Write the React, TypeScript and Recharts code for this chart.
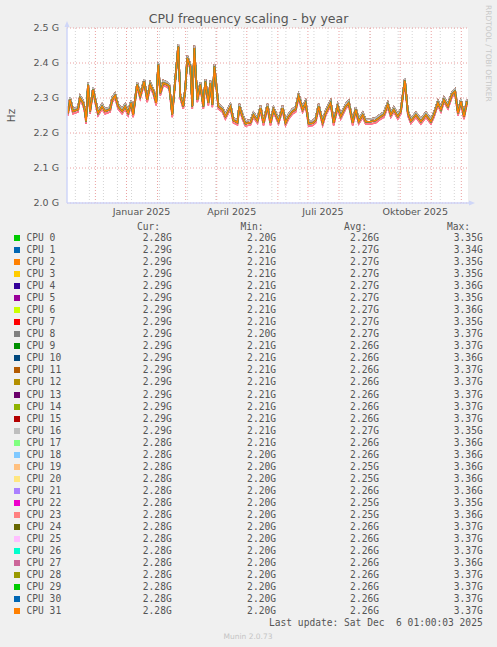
import { CartesianGrid, Line, LineChart, XAxis, YAxis } from "recharts";

const DAY = 86400000;
// left edge of the 400 day window shown by the yearly graph
const START = Date.UTC(2024, 10, 2, 16);
const END = START + 400 * DAY;

// days since START and the shared frequency curve (GHz)
const dayOffsets = [
  1, 3, 6, 11, 13, 16, 18, 19, 21, 23, 26, 28, 31, 35, 38, 43, 45, 48, 51, 55,
  58, 61, 64, 66, 70, 73, 77, 80, 83, 86, 89, 91, 93, 96, 100, 102, 105, 106,
  111, 113, 116, 118, 120, 123, 125, 127, 130, 133, 136, 138, 141, 143, 145,
  147, 150, 151, 155, 158, 163, 166, 170, 172, 175, 178, 183, 186, 190, 193,
  196, 200, 203, 206, 211, 215, 218, 221, 225, 228, 231, 235, 238, 241, 245,
  248, 251, 255, 258, 263, 266, 270, 273, 278, 281, 285, 288, 291, 295, 298,
  303, 308, 313, 316, 320, 323, 326, 330, 333, 337, 340, 343, 348, 353, 358,
  363, 366, 370, 373, 376, 380, 384, 387, 390, 393, 396, 399,
];
const baseGHz = [
  2.257, 2.295, 2.262, 2.267, 2.3, 2.286, 2.262, 2.233, 2.338, 2.262, 2.324,
  2.295, 2.257, 2.276, 2.262, 2.267, 2.295, 2.307, 2.276, 2.262, 2.276, 2.257,
  2.286, 2.252, 2.338, 2.305, 2.347, 2.295, 2.338, 2.319, 2.286, 2.395, 2.314,
  2.343, 2.338, 2.333, 2.252, 2.286, 2.447, 2.305, 2.276, 2.324, 2.414, 2.39,
  2.276, 2.443, 2.295, 2.338, 2.276, 2.347, 2.286, 2.343, 2.281, 2.39, 2.305,
  2.276, 2.267, 2.247, 2.276, 2.236, 2.23, 2.276, 2.247, 2.227, 2.23, 2.252,
  2.235, 2.271, 2.229, 2.276, 2.229, 2.267, 2.233, 2.271, 2.229, 2.247, 2.262,
  2.267, 2.305, 2.267, 2.286, 2.227, 2.228, 2.236, 2.276, 2.229, 2.257, 2.286,
  2.229, 2.276, 2.247, 2.276, 2.286, 2.229, 2.267, 2.233, 2.252, 2.232, 2.233,
  2.236, 2.247, 2.252, 2.281, 2.252, 2.267, 2.247, 2.262, 2.35, 2.257, 2.234,
  2.252, 2.233, 2.252, 2.233, 2.252, 2.286, 2.267, 2.295, 2.276, 2.31, 2.319,
  2.257, 2.29, 2.247, 2.29,
];

// small per-cpu shift (GHz) following the Avg column
const cpuShift = [
  0, 0.007, 0.007, 0.007, 0.007, 0.007, 0.007, 0.007, 0.007, 0, 0, 0, 0, 0, 0,
  0, 0.007, 0, 0, -0.007, -0.007, 0, -0.007, -0.007, 0, 0, 0, 0, 0, 0, 0, 0,
];

const cpuColors = [
  "#00CC00", "#0066B3", "#FF8000", "#FFCC00", "#330099", "#990099", "#CCFF00",
  "#FF0000", "#808080", "#008F00", "#00487D", "#B35A00", "#B38F00", "#6B006B",
  "#8FB300", "#B30000", "#BEBEBE", "#80FF80", "#80C9FF", "#FFC080", "#FFE680",
  "#AA80FF", "#EE00CC", "#FF8080", "#666600", "#FFBFFF", "#00FFCC", "#CC6699",
  "#999900", "#00CC00", "#0066B3", "#FF8000",
];

const curVals = [
  "2.28G", "2.29G", "2.29G", "2.29G", "2.29G", "2.29G", "2.29G", "2.29G",
  "2.29G", "2.29G", "2.29G", "2.29G", "2.29G", "2.29G", "2.29G", "2.29G",
  "2.29G", "2.28G", "2.28G", "2.28G", "2.28G", "2.28G", "2.28G", "2.28G",
  "2.28G", "2.28G", "2.28G", "2.28G", "2.28G", "2.28G", "2.28G", "2.28G",
];
const minVals = [
  "2.20G", "2.21G", "2.21G", "2.21G", "2.21G", "2.21G", "2.21G", "2.21G",
  "2.20G", "2.21G", "2.21G", "2.21G", "2.21G", "2.21G", "2.21G", "2.21G",
  "2.21G", "2.21G", "2.20G", "2.20G", "2.20G", "2.20G", "2.20G", "2.20G",
  "2.20G", "2.20G", "2.20G", "2.20G", "2.20G", "2.20G", "2.20G", "2.20G",
];
const avgVals = [
  "2.26G", "2.27G", "2.27G", "2.27G", "2.27G", "2.27G", "2.27G", "2.27G",
  "2.27G", "2.26G", "2.26G", "2.26G", "2.26G", "2.26G", "2.26G", "2.26G",
  "2.27G", "2.26G", "2.26G", "2.25G", "2.25G", "2.26G", "2.25G", "2.25G",
  "2.26G", "2.26G", "2.26G", "2.26G", "2.26G", "2.26G", "2.26G", "2.26G",
];
const maxVals = [
  "3.35G", "3.34G", "3.35G", "3.35G", "3.36G", "3.35G", "3.36G", "3.35G",
  "3.37G", "3.37G", "3.36G", "3.37G", "3.37G", "3.37G", "3.37G", "3.37G",
  "3.35G", "3.36G", "3.36G", "3.36G", "3.36G", "3.36G", "3.35G", "3.36G",
  "3.37G", "3.37G", "3.37G", "3.36G", "3.37G", "3.37G", "3.37G", "3.37G",
];

const yTicks = [2.0, 2.1, 2.2, 2.3, 2.4, 2.5];
const labelTicks = [
  Date.UTC(2025, 0, 16),
  Date.UTC(2025, 3, 16),
  Date.UTC(2025, 6, 16),
  Date.UTC(2025, 9, 16),
];
const labelNames = ["Januar 2025", "April 2025", "Juli 2025", "Oktober 2025"];
const monthStarts = [
  Date.UTC(2024, 11, 1), Date.UTC(2025, 0, 1), Date.UTC(2025, 1, 1),
  Date.UTC(2025, 2, 1), Date.UTC(2025, 3, 1), Date.UTC(2025, 4, 1),
  Date.UTC(2025, 5, 1), Date.UTC(2025, 6, 1), Date.UTC(2025, 7, 1),
  Date.UTC(2025, 8, 1), Date.UTC(2025, 9, 1), Date.UTC(2025, 10, 1),
  Date.UTC(2025, 11, 1),
];
const minorLines: number[] = [];
for (let t = Date.UTC(2024, 10, 11); t < END; t += 14 * DAY) minorLines.push(t);

const data = dayOffsets.map((d, i) => {
  const row: Record<string, number> = { t: START + d * DAY };
  cpuShift.forEach((s, c) => {
    row[`cpu${c}`] = baseGHz[i] + s;
  });
  return row;
});

const SANS = "'DejaVu Sans', sans-serif";
const MONO = "'DejaVu Sans Mono', monospace";
const TXT = "#555";

const gridX = (times: number[]) => (props: any) => {
  const { xAxis, offset } = props;
  return times.map((t) =>
    xAxis && typeof xAxis.scale === "function"
      ? xAxis.scale(t)
      : offset.left + ((t - START) / (END - START)) * offset.width
  );
};

export default function App() {
  const rowTop = (i: number) => 232 + i * 12.04;
  return (
    <div
      style={{
        position: "absolute",
        left: 0,
        top: 0,
        width: 497,
        height: 647,
        background: "#F0F0F0",
        overflow: "hidden",
        fontFamily: SANS,
      }}
    >
      <div
        style={{
          position: "absolute",
          left: 0,
          top: 11,
          width: 497,
          textAlign: "center",
          fontSize: 12.5,
          color: TXT,
        }}
      >
        CPU frequency scaling - by year
      </div>
      <div style={{ position: "absolute", left: 0, top: 0 }}>
        <LineChart
          width={497}
          height={224}
          data={data}
          margin={{ top: 28, right: 29, bottom: 0, left: 0 }}
        >
          <CartesianGrid
            fill="#FFFFFF"
            horizontal={false}
            stroke="#d4d4d4"
            strokeDasharray="1 2"
            verticalCoordinatesGenerator={gridX(minorLines)}
          />
          <CartesianGrid
            stroke="#eba0a0"
            strokeDasharray="1 2"
            verticalCoordinatesGenerator={gridX(monthStarts)}
          />
          <XAxis
            dataKey="t"
            type="number"
            domain={[START, END]}
            ticks={labelTicks}
            tickFormatter={(v) => labelNames[labelTicks.indexOf(v)] ?? ""}
            axisLine={{ stroke: "#cfd6f8", strokeWidth: 1.5 }}
            tickLine={false}
            tickSize={2}
            tickMargin={3}
            height={21}
            tick={{ fill: TXT, fontSize: 9.5, fontFamily: SANS }}
            interval={0}
          />
          <YAxis
            type="number"
            domain={[2.0, 2.5]}
            ticks={yTicks}
            allowDataOverflow
            tickFormatter={(v) => `${Number(v).toFixed(1)} G`}
            axisLine={{ stroke: "#cfd6f8", strokeWidth: 1.5 }}
            tickLine={false}
            tickSize={4}
            tickMargin={4}
            width={67}
            tick={{ fill: TXT, fontSize: 9.5, fontFamily: SANS }}
            interval={0}
          />
          {cpuColors.map((c, i) => (
            <Line
              key={i}
              type="linear"
              dataKey={`cpu${i}`}
              stroke={c}
              strokeWidth={1.5}
              dot={false}
              isAnimationActive={false}
            />
          ))}
        </LineChart>
      </div>
      <svg
        width={497}
        height={647}
        style={{ position: "absolute", left: 0, top: 0, pointerEvents: "none" }}
      >
        <polygon points="64.5,27 67,21 69.5,27" fill="#cfd6f8" />
        <line x1={67} y1={27} x2={67} y2={28} stroke="#cfd6f8" />
        <line x1={468} y1={203} x2={470} y2={203} stroke="#cfd6f8" strokeWidth={1.5} />
        <polygon points="469,200.5 475,203 469,205.5" fill="#cfd6f8" />
        <text
          x={11}
          y={115.5}
          transform="rotate(-90 11 115.5)"
          textAnchor="middle"
          dominantBaseline="central"
          fontSize={10.5}
          fill={TXT}
          fontFamily={SANS}
        >
          Hz
        </text>
        <text
          x={488.5}
          y={5}
          transform="rotate(90 488.5 5)"
          textAnchor="start"
          dominantBaseline="central"
          fontSize={7.5}
          fill="#c8c8c8"
          fontFamily={SANS}
        >
          RRDTOOL / TOBI OETIKER
        </text>
        <text
          x={248}
          y={636}
          textAnchor="middle"
          dominantBaseline="central"
          fontSize={7.5}
          fill="#c4c4c4"
          fontFamily={SANS}
        >
          Munin 2.0.73
        </text>
      </svg>
      <div
        style={{
          position: "absolute",
          left: 0,
          top: 0,
          width: 497,
          fontFamily: MONO,
          fontSize: 9.6,
          color: TXT,
          lineHeight: "12px",
          whiteSpace: "pre",
        }}
      >
        {["Cur:", "Min:", "Avg:", "Max:"].map((h, k) => (
          <div
            key={h}
            style={{
              position: "absolute",
              top: 221,
              right: 497 - [160, 263.5, 367, 470][k],
            }}
          >
            {h}
          </div>
        ))}
        {cpuColors.map((c, i) => (
          <div key={i}>
            <div
              style={{
                position: "absolute",
                left: 14,
                top: rowTop(i) + 3,
                width: 6,
                height: 6,
                background: c,
              }}
            />
            <div style={{ position: "absolute", left: 26.5, top: rowTop(i) }}>
              {`CPU ${i}`}
            </div>
            {[curVals[i], minVals[i], avgVals[i], maxVals[i]].map((v, k) => (
              <div
                key={k}
                style={{
                  position: "absolute",
                  top: rowTop(i),
                  right: 497 - [171.7, 276, 379, 482.7][k],
                }}
              >
                {v}
              </div>
            ))}
          </div>
        ))}
        <div style={{ position: "absolute", top: 617, right: 497 - 482.7 }}>
          {"Last update: Sat Dec  6 01:00:03 2025"}
        </div>
      </div>
    </div>
  );
}
